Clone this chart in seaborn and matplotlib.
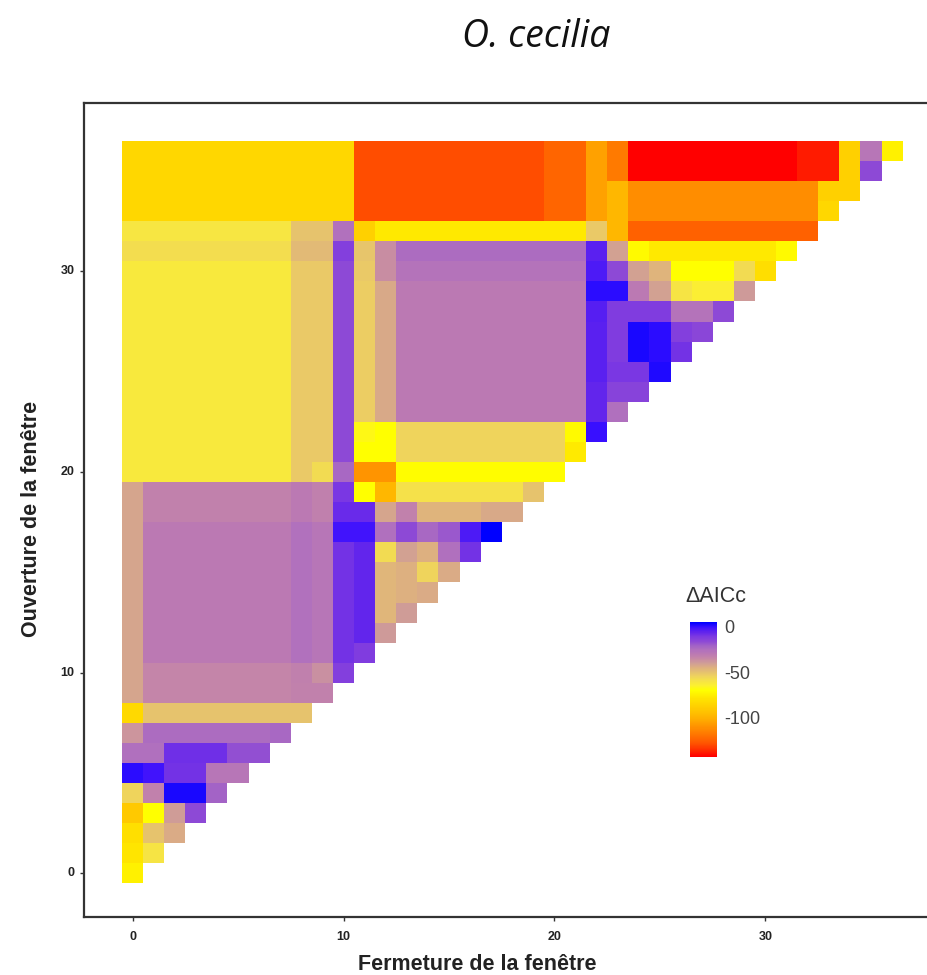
# Triangular heatmap of delta AICc for O. cecilia, by window opening / closing

import numpy as np
import seaborn as sns
import matplotlib.pyplot as plt
from matplotlib.colors import LinearSegmentedColormap

# Delta AICc per window opening (one list per opening, index = closing)
row_00 = [-75]
row_01 = [-79, -60]
row_02 = [-81, -50, -44]
row_03 = [-91, -70, -40, -16]
row_04 = [-55, -33, 3, 3, -21]
row_05 = [1, -1, -9, -9, -28, -28]
row_06 = [-25, -25, -8, -8, -8, -17, -17]
row_07 = [-38] + [-24] * 6 + [-23]
row_08 = [-84] + [-50] * 8
row_09 = [-42] + [-34] * 7 + [-33, -33]
row_10 = [-42] + [-34] * 7 + [-32, -37, -13]
row_11 = [-42] + [-30] * 7 + [-26, -28, -9, -12]
row_12 = [-42] + [-30] * 7 + [-26, -28, -9, -6, -39]
row_13 = [-42] + [-30] * 7 + [-26, -28, -9, -6, -47, -40]
row_14 = [-42] + [-30] * 7 + [-26, -28, -9, -6, -47, -45, -44]
row_15 = [-42] + [-30] * 7 + [-26, -28, -9, -6, -47, -45, -55, -44]
row_16 = [-42] + [-30] * 7 + [-26, -28, -9, -6, -57, -41, -45, -25, -9]
row_17 = [-42] + [-30] * 7 + [-26, -28, -1, -1, -25, -16, -23, -19, -3, 5]
row_18 = [-42] + [-33] * 7 + [-30, -32, -7, -7, -42, -33] + [-46] * 3 + [-43, -43]
row_19 = [-42] + [-33] * 7 + [-30, -32, -10, -70, -99] + [-59] * 6 + [-50]
row_20 = [-62] * 8 + [-52, -57, -23, -110, -110] + [-71] * 8
row_21 = [-62] * 8 + [-52, -52, -16, -70, -70] + [-55] * 8 + [-77]
row_22 = [-62] * 8 + [-52, -52, -16, -68, -70] + [-55] * 8 + [-72, 0]
row_23 = [-62] * 8 + [-52, -52, -16, -53, -43] + [-30] * 9 + [-6, -25]
row_24 = [-62] * 8 + [-52, -52, -16, -53, -43] + [-30] * 9 + [-6, -14, -14]
row_25 = [-62] * 8 + [-52, -52, -16, -53, -43] + [-30] * 9 + [-5, -10, -10, 2]
row_26 = [-62] * 8 + [-52, -52, -16, -53, -43] + [-30] * 9 + [-5, -12, 3, 1, -9]
row_27 = [-62] * 8 + [-52, -52, -16, -53, -43] + [-30] * 9 + [-5, -12, 3, 1, -13, -15]
row_28 = [-62] * 8 + [-52, -52, -16, -53, -43] + [-30] * 9 + [-4, -12, -12, -12, -27, -27, -16]
row_29 = [-62] * 8 + [-52, -52, -16, -53, -43] + [-30] * 9 + [1, 1, -30, -41, -60, -64, -64, -39]
row_30 = [-62] * 8 + [-52, -52, -16, -52, -36] + [-27] * 9 + [-3, -16, -41, -46, -70, -70, -70, -57, -82]
row_31 = [-58] * 8 + [-48, -48, -13, -51, -36] + [-24] * 9 + [-5, -41, -72] + [-78] * 6 + [-72]
row_32 = [-61] * 8 + [-50, -50, -26, -88] + [-78] * 10 + [-52, -99] + [-125] * 9
row_33 = [-85] * 11 + [-130] * 9 + [-124, -124, -106, -99] + [-112] * 9 + [-85]
row_34 = [-85] * 11 + [-130] * 9 + [-124, -124, -106, -99] + [-112] * 9 + [-88, -88]
row_35 = [-85] * 11 + [-130] * 9 + [-124, -124, -106, -118] + [-144] * 8 + [-139, -139, -88, -16]
row_36 = [-85] * 11 + [-130] * 9 + [-124, -124, -106, -118] + [-144] * 8 + [-139, -139, -88, -28, -75]

all_rows = [
    row_00, row_01, row_02, row_03, row_04, row_05, row_06, row_07, row_08, row_09,
    row_10, row_11, row_12, row_13, row_14, row_15, row_16, row_17, row_18, row_19,
    row_20, row_21, row_22, row_23, row_24, row_25, row_26, row_27, row_28, row_29,
    row_30, row_31, row_32, row_33, row_34, row_35, row_36,
]

tick_values = [0, 10, 20, 30]
legend_ticks = [0, -50, -100]

# Fill the lower triangle, the rest stays empty
n = len(all_rows)
matrix = np.full((n, n), np.nan)
for i, row in enumerate(all_rows):
    matrix[i, : len(row)] = row

# Colour scale red -> yellow -> blue
v_min, v_max = -144, 5.5
scale_values = [-144, -130, -120, -110, -100, -90, -80, -70, -65, -60, -55, -50, -45,
                -40, -35, -30, -25, -20, -15, -10, -5, 0, 5.5]
scale_colors = ["#ff0000", "#ff5000", "#ff7400", "#ff9400", "#ffb400", "#ffcc00",
                "#ffe200", "#ffff00", "#fcf030", "#f6e445", "#efd45c", "#e6c26e",
                "#ddb080", "#d09e96", "#c688a6", "#bc7ab2", "#b070be", "#a060c8",
                "#8a46d8", "#7b38e2", "#5e22ee", "#3a10ff", "#0000ff"]
positions = [(v - v_min) / (v_max - v_min) for v in scale_values]
cmap = LinearSegmentedColormap.from_list("aicc", list(zip(positions, scale_colors)))

sns.set_style("white")
plt.rcParams["font.family"] = ["Liberation Sans", "DejaVu Sans"]
plt.rcParams["axes.unicode_minus"] = False

W, H = 927, 975
fig = plt.figure(figsize=(W / 100, H / 100), dpi=100)
# The box runs past the right edge of the picture, as in the cropped original
ax = fig.add_axes([84 / W, 1 - 917 / H, (941 - 84) / W, (917 - 103) / H])
cax = fig.add_axes([690 / W, 1 - 757 / H, 27 / W, 135 / H])

sns.heatmap(matrix, ax=ax, cmap=cmap, vmin=v_min, vmax=v_max, cbar_ax=cax,
            cbar_kws={"ticks": legend_ticks}, square=False)

ax.set_xlim(-2.30 + 0.5, 38.32 + 0.5)
ax.set_ylim(-2.17 + 0.5, 38.39 + 0.5)
ax.set_xticks([t + 0.5 for t in tick_values])
ax.set_xticklabels(tick_values, rotation=0)
ax.set_yticks([t + 0.5 for t in tick_values])
ax.set_yticklabels(tick_values, rotation=0)
ax.tick_params(axis="both", length=3, width=1, color="#333333", labelsize=9,
               labelcolor="#222222", left=True, bottom=True)
ax.tick_params(axis="x", pad=7)
ax.tick_params(axis="y", pad=4)
for lab in ax.get_xticklabels() + ax.get_yticklabels():
    lab.set_fontweight("bold")

for spine in ax.spines.values():
    spine.set_visible(True)
    spine.set_color("#333333")
    spine.set_linewidth(1.6)

fig.text(477 / W, 1 - 964 / H, "Fermeture de la fenêtre", ha="center", va="center",
         fontsize=15.5, fontweight="bold", color="#222222")
fig.text(32 / W, 1 - 519 / H, "Ouverture de la fenêtre", ha="center", va="center",
         rotation=90, fontsize=15.5, fontweight="bold", color="#222222")
fig.text(536 / W, 1 - 37 / H, "O. cecilia", ha="center", va="center", fontsize=27,
         style="italic", family="Open Sans", color="#111111")

# Legend bar with small white ticks on both sides
cax.tick_params(axis="y", length=4, width=0.8, color="white", direction="in",
                left=True, right=True, labelsize=13, labelcolor="#444444", pad=5)
for spine in cax.spines.values():
    spine.set_visible(False)
fig.text(685 / W, 1 - 597 / H, "ΔAICc", ha="left", va="center", fontsize=15.5,
         color="#333333")

fig.savefig("out.png", dpi=100)
